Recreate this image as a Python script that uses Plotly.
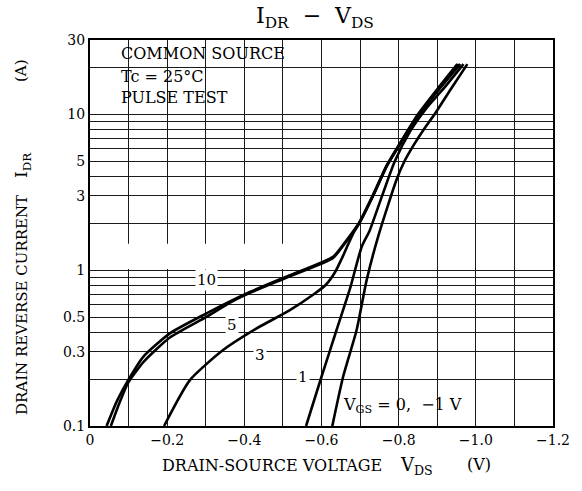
import math
import plotly.graph_objects as go

# ---- data ----
vds_10 = [-0.043, -0.07, -0.099, -0.138, -0.207, -0.302, -0.406, -0.518, -0.63, -0.66, -0.699, -0.735, -0.769, -0.803, -0.85, -0.90, -0.952]
idr_10 = [0.1, 0.145, 0.197, 0.278, 0.393, 0.528, 0.709, 0.929, 1.22, 1.5, 2.05, 3.1, 4.7, 6.5, 10.0, 14.5, 21.0]

vds_5 = [-0.054, -0.076, -0.099, -0.14, -0.207, -0.302, -0.363, -0.406, -0.518, -0.63, -0.66, -0.699, -0.735, -0.769, -0.803, -0.852, -0.903, -0.956]
idr_5 = [0.1, 0.14, 0.19, 0.26, 0.37, 0.502, 0.62, 0.70, 0.915, 1.2, 1.48, 2.02, 3.05, 4.65, 6.45, 10.0, 14.5, 21.0]

vds_3 = [-0.192, -0.259, -0.345, -0.432, -0.518, -0.58, -0.61, -0.635, -0.658, -0.68, -0.70, -0.735, -0.77, -0.805, -0.855, -0.905, -0.96]
idr_3 = [0.1, 0.197, 0.307, 0.423, 0.554, 0.70, 0.80, 0.97, 1.27, 1.68, 2.05, 3.05, 4.7, 6.5, 10.0, 14.5, 21.0]

vds_1 = [-0.56, -0.60, -0.639, -0.674, -0.704, -0.725, -0.757, -0.79, -0.83, -0.87, -0.92, -0.968]
idr_1 = [0.1, 0.207, 0.413, 0.763, 1.41, 1.8, 3.0, 5.0, 7.8, 10.8, 15.0, 21.0]

vds_0 = [-0.628, -0.656, -0.691, -0.717, -0.747, -0.794, -0.815, -0.838, -0.865, -0.893, -0.935, -0.978]
idr_0 = [0.1, 0.207, 0.413, 0.863, 1.65, 3.78, 5.0, 6.3, 8.0, 10.0, 14.5, 21.0]

x_ticks = [0, -0.2, -0.4, -0.6, -0.8, -1.0, -1.2]
x_ticktext = ["0", "\u22120.2", "\u22120.4", "\u22120.6", "\u22120.8", "\u22121.0", "\u22121.2"]
x_minor = [-0.1, -0.3, -0.5, -0.7, -0.9, -1.1]

y_ticks = [0.1, 0.3, 0.5, 1, 3, 5, 10, 30]
y_ticktext = ["0.1", "0.3", "0.5", "1", "3", "5", "10", "30"]
y_minor = [0.2, 0.4, 0.6, 0.7, 0.8, 0.9, 2, 4, 6, 7, 8, 9, 20]

curves = [(vds_10, idr_10), (vds_5, idr_5), (vds_3, idr_3), (vds_1, idr_1), (vds_0, idr_0)]

# curve labels: (text, vds, idr)
label_text = ["10", "5", "3", "1"]
label_vds = [-0.302, -0.367, -0.440, -0.553]
label_idr = [0.863, 0.444, 0.285, 0.207]

FONT = "DejaVu Serif"
GRID = "#1a1a1a"

fig = go.Figure()
for v, i in curves:
    fig.add_trace(go.Scatter(x=v, y=i, mode="lines",
                             line=dict(color="black", width=2.6, shape="spline", smoothing=0.6),
                             showlegend=False, hoverinfo="skip"))

L = math.log10

fig.update_layout(
    width=582, height=491,
    margin=dict(l=90, r=29, t=40, b=65),
    paper_bgcolor="white", plot_bgcolor="white",
    showlegend=False,
    font=dict(family=FONT, size=14, color="black"),
)
fig.update_xaxes(range=[0, -1.2], tickvals=x_ticks, ticktext=x_ticktext,
                 showgrid=True, gridcolor=GRID, gridwidth=1,
                 minor=dict(tickvals=x_minor, showgrid=True, gridcolor=GRID, gridwidth=1, ticks=""),
                 showline=True, linecolor="black", linewidth=2, mirror=True,
                 ticks="", zeroline=False, tickfont=dict(size=14))
fig.update_yaxes(type="log", range=[-1, L(30)], tickvals=y_ticks, ticktext=y_ticktext,
                 showgrid=True, gridcolor=GRID, gridwidth=1,
                 minor=dict(tickvals=y_minor, showgrid=True, gridcolor=GRID, gridwidth=1, ticks=""),
                 showline=True, linecolor="black", linewidth=2, mirror=True,
                 ticks="", zeroline=False, tickfont=dict(size=14))

# white boxes hiding grid behind text blocks
fig.add_shape(type="rect", xref="x", yref="y", x0=0, x1=-0.592, y0=L(10.4), y1=L(30),
              fillcolor="white", line=dict(width=0), layer="between")
fig.add_shape(type="rect", xref="x", yref="y", x0=-0.665, x1=-1.085, y0=L(0.104), y1=L(0.183),
              fillcolor="white", line=dict(width=0), layer="between")

ann = []
# box text
for txt, yy in [("COMMON SOURCE", 24.5), ("Tc = 25\u00b0C", 17.6), ("PULSE TEST", 12.9)]:
    ann.append(dict(text=txt, x=-0.075, y=L(yy), xref="x", yref="y", xanchor="left", yanchor="middle",
                    showarrow=False, font=dict(size=16, family=FONT)))
for t, xv, yv in zip(label_text, label_vds, label_idr):
    ann.append(dict(text=t, x=xv, y=L(yv), xref="x", yref="y", showarrow=False,
                    bgcolor="white", borderpad=1, font=dict(size=15, family=FONT)))
ann.append(dict(text="V<sub>GS</sub> = 0,\u00a0 \u22121 V", x=-0.81, y=L(0.136), xref="x", yref="y",
                showarrow=False, font=dict(size=16, family=FONT)))

# pixel helpers (plot area: x 90..553, y 40..426)
def px(xp):
    return (xp - 90) / 463.0


def py(yp):
    return (426 - yp) / 386.0


# title
ann.append(dict(text="I<sub>DR</sub>\u00a0 \u2212\u00a0 V<sub>DS</sub>", x=px(315), y=py(17), xref="paper", yref="paper",
                showarrow=False, xanchor="center", yanchor="middle", font=dict(size=22, family=FONT)))
# x axis title pieces
ann.append(dict(text="DRAIN-SOURCE VOLTAGE", x=px(160), y=py(466), xref="paper", yref="paper",
                showarrow=False, xanchor="left", yanchor="middle", font=dict(size=16, family=FONT)))
ann.append(dict(text="V<sub>DS</sub>", x=px(398), y=py(466), xref="paper", yref="paper",
                showarrow=False, xanchor="left", yanchor="middle", font=dict(size=18, family=FONT)))
ann.append(dict(text="(V)", x=px(479), y=py(465), xref="paper", yref="paper",
                showarrow=False, xanchor="center", yanchor="middle", font=dict(size=16, family=FONT)))
# y axis title pieces
ann.append(dict(text="DRAIN REVERSE CURRENT", x=px(22), y=py(417), xref="paper", yref="paper",
                showarrow=False, xanchor="center", yanchor="bottom", textangle=-90, font=dict(size=15, family=FONT)))
ann.append(dict(text="I<sub>DR</sub>", x=px(22), y=py(165), xref="paper", yref="paper",
                showarrow=False, xanchor="center", yanchor="middle", textangle=-90, font=dict(size=17, family=FONT)))
ann.append(dict(text="(A)", x=px(21), y=py(71), xref="paper", yref="paper",
                showarrow=False, xanchor="center", yanchor="middle", textangle=-90, font=dict(size=15, family=FONT)))
fig.update_layout(annotations=ann)

fig.write_html("out.html", config={"displayModeBar": False},
               post_script="document.body.style.margin='0px';")
